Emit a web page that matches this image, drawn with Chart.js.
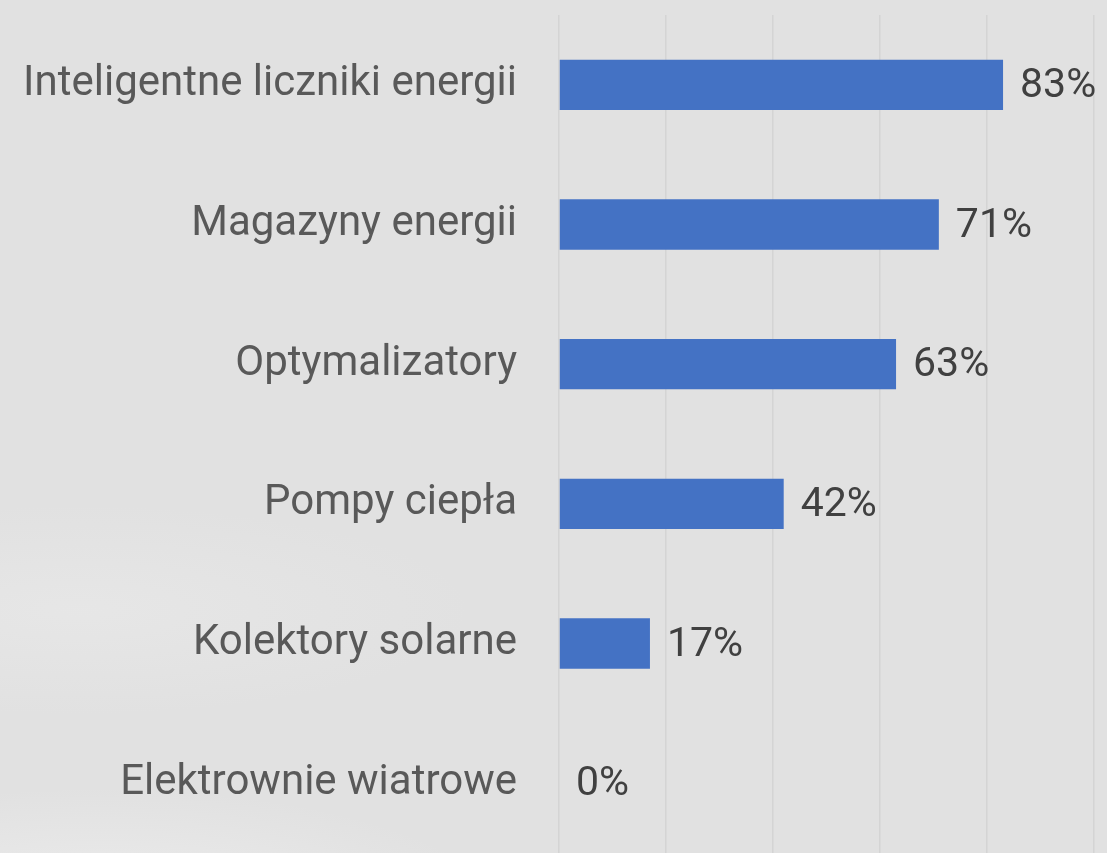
<!DOCTYPE html>
<html>
<head>
<meta charset="utf-8" />
<title>Technologie</title>
<script src="https://cdn.jsdelivr.net/npm/chart.js@4.4.1/dist/chart.umd.min.js"></script>
<style>
  html, body { margin: 0; padding: 0; }
  body {
    width: 1107px; height: 853px; overflow: hidden;
    background:
      radial-gradient(ellipse 560px 190px at 100px 930px, rgba(238,238,238,1), rgba(238,238,238,0) 75%),
      radial-gradient(ellipse 560px 150px at 80px 610px, rgba(231,231,231,0.9), rgba(231,231,231,0) 70%),
      #e1e1e1;
  }
  #wrap { position: absolute; left: 0; top: 0; width: 1107px; height: 853px; }
</style>
</head>
<body>
<div id="wrap"><canvas id="chart"></canvas></div>
<script>
var categories = ['Inteligentne liczniki energii', 'Magazyny energii', 'Optymalizatory',
                  'Pompy ciepła', 'Kolektory solarne', 'Elektrownie wiatrowe'];
var values = [83, 71, 63, 42, 17, 0];
var xTicks = [0, 20, 40, 60, 80, 100];

var fontName = 'Roboto, "Noto Sans", sans-serif';

var valueLabels = {
  id: 'valueLabels',
  afterDatasetsDraw: function (chart) {
    var ctx = chart.ctx;
    var meta = chart.getDatasetMeta(0);
    ctx.save();
    ctx.font = '41px ' + fontName;
    ctx.fillStyle = '#404040';
    ctx.textAlign = 'left';
    ctx.textBaseline = 'middle';
    meta.data.forEach(function (bar, i) {
      ctx.fillText(values[i] + '%', bar.x + 17, bar.y + 2);
    });
    ctx.restore();
  }
};

new Chart(document.getElementById('chart'), {
  type: 'bar',
  data: {
    labels: categories,
    datasets: [{
      data: values,
      backgroundColor: '#4472c4',
      borderWidth: 0,
      categoryPercentage: 1,
      barPercentage: 0.36
    }]
  },
  options: {
    indexAxis: 'y',
    responsive: true,
    maintainAspectRatio: false,
    animation: false,
    layout: { padding: { top: 15, right: 13, bottom: -2, left: 0 } },
    plugins: { legend: { display: false }, tooltip: { enabled: false } },
    scales: {
      x: {
        min: 0, max: 100,
        afterBuildTicks: function (scale) {
          scale.ticks = xTicks.map(function (v) { return { value: v }; });
        },
        afterFit: function (scale) {
          scale.height = 0;
          scale.paddingLeft = 0; scale.paddingRight = 0;
          scale.paddingTop = 0; scale.paddingBottom = 0;
        },
        ticks: { display: false },
        grid: { color: '#d4d4d4', lineWidth: 1.5, drawTicks: false },
        border: { display: false }
      },
      y: {
        afterFit: function (scale) {
          scale.width = 559;
          scale.paddingTop = 0; scale.paddingBottom = 0;
        },
        ticks: {
          padding: 42,
          color: '#595959',
          font: { family: fontName, size: 42 }
        },
        grid: { display: false, drawTicks: false },
        border: { display: false }
      }
    }
  },
  plugins: [valueLabels]
});
</script>
</body>
</html>
